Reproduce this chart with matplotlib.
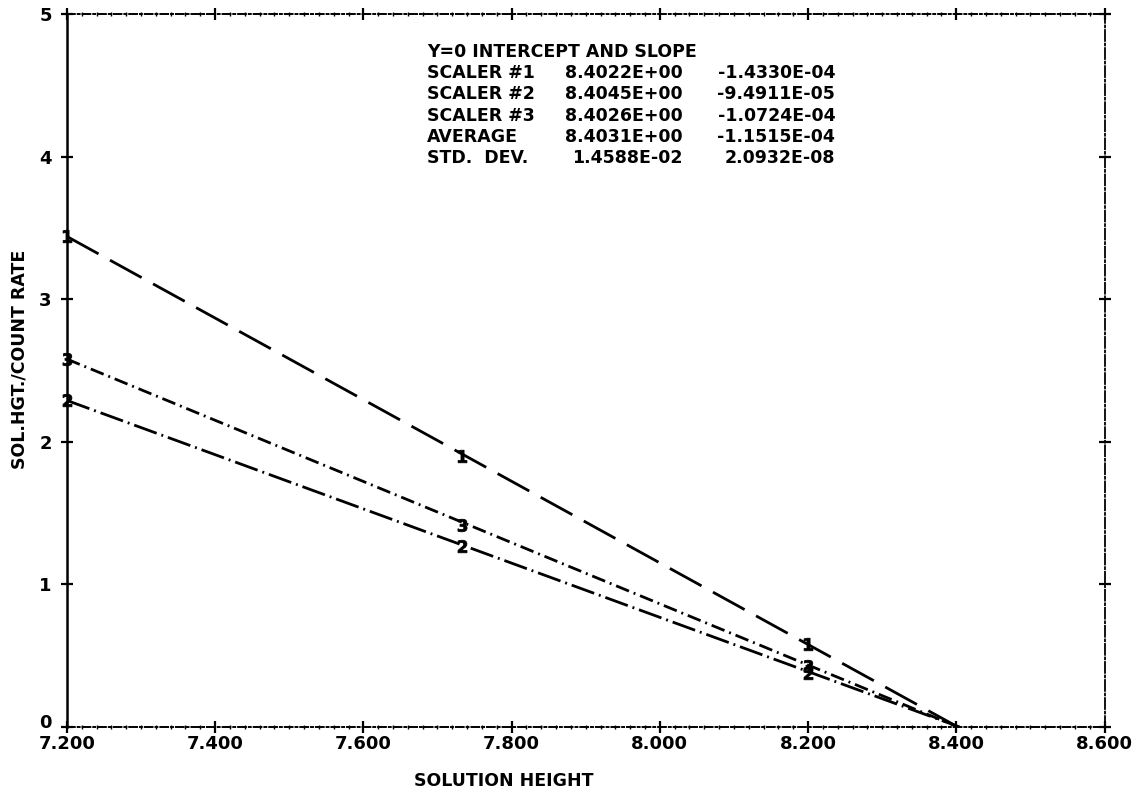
import matplotlib
matplotlib.use("Agg")
import matplotlib.pyplot as plt
import matplotlib.transforms as mtransforms
from matplotlib.ticker import MultipleLocator

# Solution height (x) vs solution height / count rate (y) for three scalers
x_marks = [7.2, 7.733, 8.2]
scaler_ids = ["1", "2", "3"]
intercepts = [8.4022, 8.4045, 8.4026]
y_scaler1 = [3.44, 1.90, 0.58]
y_scaler2 = [2.29, 1.27, 0.38]
y_scaler3 = [2.58, 1.42, 0.43]

x_ticks = [7.2, 7.4, 7.6, 7.8, 8.0, 8.2, 8.4, 8.6]
x_ticklabels = ["7.200", "7.400", "7.600", "7.800", "8.000", "8.200", "8.400", "8.600"]
y_ticks = [0, 1, 2, 3, 4, 5]

table_title = "Y=0 INTERCEPT AND SLOPE"
table_rows = ["SCALER #1", "SCALER #2", "SCALER #3", "AVERAGE", "STD.  DEV."]
table_intercept = ["8.4022E+00", "8.4045E+00", "8.4026E+00", "8.4031E+00", "1.4588E-02"]
table_slope = ["-1.4330E-04", "-9.4911E-05", "-1.0724E-04", "-1.1515E-04", "2.0932E-08"]

plt.rcParams["font.family"] = ["DejaVu Sans"]
plt.rcParams["font.weight"] = "bold"

fig = plt.figure(figsize=(11.34, 7.91), dpi=100)
ax = fig.add_axes([0.059, 0.0809, 0.915, 0.9014])
ax.set_xlim(7.2, 8.6)
ax.set_ylim(0, 5)

styles = {
    "1": (0, (13, 4.7)),
    "2": (0, (8.6, 1.8, 0.7, 1.8)),
    "3": (0, (5, 1.8, 0.7, 1.8)),
}
series = [y_scaler1, y_scaler2, y_scaler3]
for sid, ys, x0 in zip(scaler_ids, series, intercepts):
    # fitted line from the first point down to the y = 0 intercept
    ax.plot([x_marks[0], x0], [ys[0], 0], color="black", lw=2.0,
            linestyle=styles[sid])
    ax.plot(x_marks, ys, linestyle="none", marker=f"${sid}$",
            markersize=9, color="black", markeredgewidth=0.6, clip_on=False)

# frame: solid left edge, dotted plotter-style other edges
ax.spines["left"].set_linewidth(1.8)
for side in ["top", "bottom"]:
    ax.spines[side].set_linestyle((0, (4, 1.5, 1, 1.5)))
    ax.spines[side].set_linewidth(1.4)
ax.spines["right"].set_linestyle((0, (6, 1.5, 1, 1.5)))
ax.spines["right"].set_linewidth(1.3)

ax.set_xticks(x_ticks)
ax.set_xticklabels(x_ticklabels)
ax.set_yticks(y_ticks)
ax.xaxis.set_minor_locator(MultipleLocator(0.02))
ax.tick_params(axis="both", which="major", direction="inout", length=9,
               width=1.6, top=True, right=True, labelsize=13)
ax.tick_params(axis="x", which="major", pad=1.5)
ax.tick_params(axis="y", which="major", pad=6.5)
ax.tick_params(axis="x", which="minor", direction="inout", length=3.5,
               width=1.0, top=True)
for lab in ax.get_xticklabels() + ax.get_yticklabels():
    lab.set_fontweight("bold")

# lift the "0" label a little so it sits clear of the first x label
zero_lab = ax.yaxis.get_major_ticks()[0].label1
zero_lab.set_transform(zero_lab.get_transform() +
                       mtransforms.ScaledTranslation(0, 4 / 72, fig.dpi_scale_trans))

ax.set_xlabel("SOLUTION HEIGHT", fontsize=12.5, fontweight="bold", va="center")
ax.xaxis.set_label_coords(0.421, -0.0757)
ax.set_ylabel("SOL.HGT./COUNT RATE", fontsize=12.5, fontweight="bold", va="center")
ax.yaxis.set_label_coords(-0.046, 0.515)

# intercept / slope summary table
tx0, tx1, tx2 = 0.3468, 0.5934, 0.7405
ty0, dy = 0.9467, 0.0297
fs = 12.5
ax.text(tx0, ty0, table_title, transform=ax.transAxes, fontsize=fs,
        va="center", ha="left", fontweight="bold")
for i, (r, a, b) in enumerate(zip(table_rows, table_intercept, table_slope)):
    y = ty0 - (i + 1) * dy
    ax.text(tx0, y, r, transform=ax.transAxes, fontsize=fs, va="center",
            ha="left", fontweight="bold")
    ax.text(tx1, y, a, transform=ax.transAxes, fontsize=fs, va="center",
            ha="right", fontweight="bold")
    ax.text(tx2, y, b, transform=ax.transAxes, fontsize=fs, va="center",
            ha="right", fontweight="bold")

fig.savefig("out.png", dpi=100)
